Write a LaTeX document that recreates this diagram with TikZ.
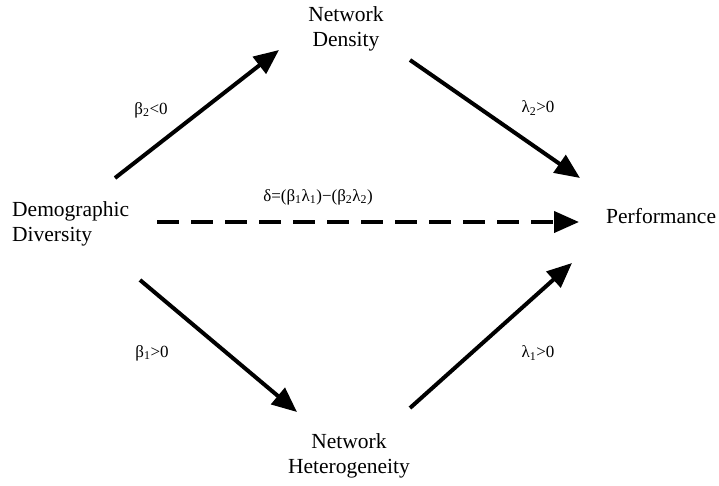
\documentclass[tikz,border=0pt]{standalone}
\usepackage{fontspec}
\setmainfont{Liberation Serif}
\usetikzlibrary{arrows.meta}
\begin{document}
\begin{tikzpicture}[x=1pt,y=-1pt,
  lbl/.style={font=\fontsize{21.5}{25}\selectfont, align=center, inner sep=0pt},
  coef/.style={font=\fontsize{17}{19}\selectfont, inner sep=0pt},
  conn/.style={line width=4pt, -{Triangle[length=25pt,width=21pt]}},
  dconn/.style={conn, dash pattern=on 22pt off 12pt}]
\useasboundingbox (0,0) rectangle (719,485);
\node[lbl] (dens) at (346,29) {Network\\Density};
\node[lbl, align=left, anchor=west] (div) at (12,224) {Demographic\\Diversity};
\node[lbl, anchor=west] (perf) at (606,216) {Performance};
\node[lbl] (het) at (349,456) {Network\\Heterogeneity};
\coordinate (a1s) at (115,178); \coordinate (a1e) at (279,50);
\coordinate (a2s) at (410,60);  \coordinate (a2e) at (580,178);
\coordinate (a3s) at (140,280); \coordinate (a3e) at (297,412);
\coordinate (a4s) at (410,408); \coordinate (a4e) at (572,263);
\coordinate (ds) at (157,222);  \coordinate (de) at (579,222);
\draw[conn] (a1s) -- (a1e);
\draw[conn] (a2s) -- (a2e);
\draw[conn] (a3s) -- (a3e);
\draw[conn] (a4s) -- (a4e);
\draw[dconn] (ds) -- (de);
\node[coef] (b2) at (151,110) {β\textsubscript{2}<0};
\node[coef] (l2) at (538,108) {λ\textsubscript{2}>0};
\node[coef] (b1) at (152,353) {β\textsubscript{1}>0};
\node[coef] (l1) at (538,353) {λ\textsubscript{1}>0};
\node[coef] (dl) at (318,197) {δ=(β\textsubscript{1}λ\textsubscript{1})−(β\textsubscript{2}λ\textsubscript{2})};
\end{tikzpicture}
\end{document}
